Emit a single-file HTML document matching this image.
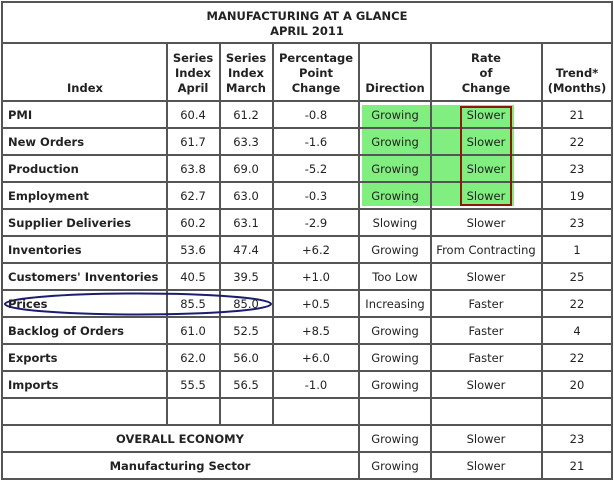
<!DOCTYPE html>
<html><head><meta charset="utf-8"><style>
html,body{margin:0;padding:0;background:#fff;}
svg{display:block;}
text{font-family:"DejaVu Sans","Liberation Sans",sans-serif;font-size:11.5px;fill:#222;}
.b{font-weight:bold;}
</style></head><body>
<svg width="614" height="481" viewBox="0 0 614 481" xmlns="http://www.w3.org/2000/svg">
<rect x="0" y="0" width="614" height="481" fill="#fff"/>
<rect x="362" y="105" width="68" height="101" fill="#80ef80"/>
<rect x="431" y="105" width="83" height="101" fill="#80ef80"/>
<g stroke="#555" stroke-width="2" fill="none">
<rect x="2" y="2" width="610" height="477"/>
<line x1="2" y1="43" x2="612" y2="43"/>
<line x1="2" y1="101" x2="612" y2="101"/>
<line x1="2" y1="128" x2="612" y2="128"/>
<line x1="2" y1="155" x2="612" y2="155"/>
<line x1="2" y1="182" x2="612" y2="182"/>
<line x1="2" y1="209" x2="612" y2="209"/>
<line x1="2" y1="236" x2="612" y2="236"/>
<line x1="2" y1="263" x2="612" y2="263"/>
<line x1="2" y1="290" x2="612" y2="290"/>
<line x1="2" y1="317" x2="612" y2="317"/>
<line x1="2" y1="344" x2="612" y2="344"/>
<line x1="2" y1="371" x2="612" y2="371"/>
<line x1="2" y1="398" x2="612" y2="398"/>
<line x1="2" y1="425" x2="612" y2="425"/>
<line x1="2" y1="452" x2="612" y2="452"/>
<line x1="167" y1="43" x2="167" y2="425"/>
<line x1="220" y1="43" x2="220" y2="425"/>
<line x1="273" y1="43" x2="273" y2="425"/>
<line x1="359" y1="43" x2="359" y2="479"/>
<line x1="431" y1="43" x2="431" y2="479"/>
<line x1="542" y1="43" x2="542" y2="479"/>
</g>
<rect x="461" y="107" width="50" height="98" fill="none" stroke="#8b1a0a" stroke-width="2"/>
<ellipse cx="138" cy="304" rx="133" ry="10.5" fill="none" stroke="#1c1c70" stroke-width="2"/>
<g class="b" text-anchor="middle">
<text x="307" y="20">MANUFACTURING AT A GLANCE</text>
<text x="307" y="35">APRIL 2011</text>
<text x="85" y="92">Index</text>
<text x="193" y="62">Series</text><text x="193" y="77">Index</text><text x="193" y="92">April</text>
<text x="246" y="62">Series</text><text x="246" y="77">Index</text><text x="246" y="92">March</text>
<text x="316" y="62">Percentage</text><text x="316" y="77">Point</text><text x="316" y="92">Change</text>
<text x="395" y="92">Direction</text>
<text x="486" y="62">Rate</text><text x="486" y="77">of</text><text x="486" y="92">Change</text>
<text x="577" y="77">Trend*</text><text x="577" y="92">(Months)</text>
<text x="180" y="443">OVERALL ECONOMY</text>
<text x="180" y="470">Manufacturing Sector</text>
</g>
<g class="b">
<text x="8" y="119">PMI</text>
<text x="8" y="146">New Orders</text>
<text x="8" y="173">Production</text>
<text x="8" y="200">Employment</text>
<text x="8" y="227">Supplier Deliveries</text>
<text x="8" y="254">Inventories</text>
<text x="8" y="281">Customers' Inventories</text>
<text x="8" y="308">Prices</text>
<text x="8" y="335">Backlog of Orders</text>
<text x="8" y="362">Exports</text>
<text x="8" y="389">Imports</text>
</g>
<g text-anchor="middle">
<text x="193" y="119">60.4</text><text x="246" y="119">61.2</text><text x="316" y="119">-0.8</text><text x="395" y="119">Growing</text><text x="486" y="119">Slower</text><text x="577" y="119">21</text>
<text x="193" y="146">61.7</text><text x="246" y="146">63.3</text><text x="316" y="146">-1.6</text><text x="395" y="146">Growing</text><text x="486" y="146">Slower</text><text x="577" y="146">22</text>
<text x="193" y="173">63.8</text><text x="246" y="173">69.0</text><text x="316" y="173">-5.2</text><text x="395" y="173">Growing</text><text x="486" y="173">Slower</text><text x="577" y="173">23</text>
<text x="193" y="200">62.7</text><text x="246" y="200">63.0</text><text x="316" y="200">-0.3</text><text x="395" y="200">Growing</text><text x="486" y="200">Slower</text><text x="577" y="200">19</text>
<text x="193" y="227">60.2</text><text x="246" y="227">63.1</text><text x="316" y="227">-2.9</text><text x="395" y="227">Slowing</text><text x="486" y="227">Slower</text><text x="577" y="227">23</text>
<text x="193" y="254">53.6</text><text x="246" y="254">47.4</text><text x="316" y="254">+6.2</text><text x="395" y="254">Growing</text><text x="486" y="254">From Contracting</text><text x="577" y="254">1</text>
<text x="193" y="281">40.5</text><text x="246" y="281">39.5</text><text x="316" y="281">+1.0</text><text x="395" y="281">Too Low</text><text x="486" y="281">Slower</text><text x="577" y="281">25</text>
<text x="193" y="308">85.5</text><text x="246" y="308">85.0</text><text x="316" y="308">+0.5</text><text x="395" y="308">Increasing</text><text x="486" y="308">Faster</text><text x="577" y="308">22</text>
<text x="193" y="335">61.0</text><text x="246" y="335">52.5</text><text x="316" y="335">+8.5</text><text x="395" y="335">Growing</text><text x="486" y="335">Faster</text><text x="577" y="335">4</text>
<text x="193" y="362">62.0</text><text x="246" y="362">56.0</text><text x="316" y="362">+6.0</text><text x="395" y="362">Growing</text><text x="486" y="362">Faster</text><text x="577" y="362">22</text>
<text x="193" y="389">55.5</text><text x="246" y="389">56.5</text><text x="316" y="389">-1.0</text><text x="395" y="389">Growing</text><text x="486" y="389">Slower</text><text x="577" y="389">20</text>
<text x="395" y="443">Growing</text><text x="486" y="443">Slower</text><text x="577" y="443">23</text>
<text x="395" y="470">Growing</text><text x="486" y="470">Slower</text><text x="577" y="470">21</text>
</g>
</svg>
</body></html>
